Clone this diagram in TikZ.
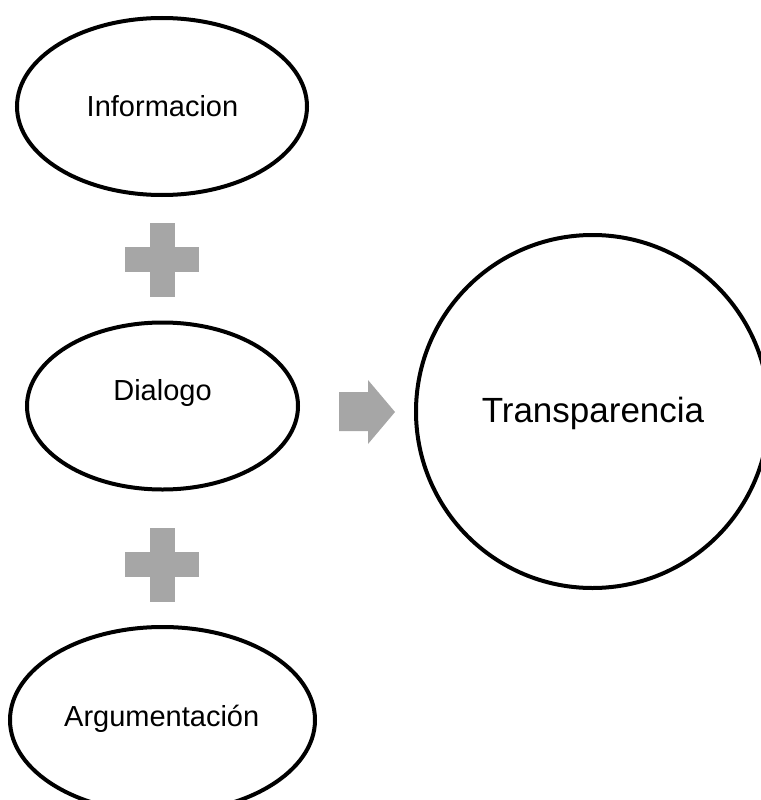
\documentclass[tikz,border=0pt]{standalone}
\usepackage{fontspec}
\setmainfont{Liberation Sans}
\definecolor{signgray}{HTML}{A6A6A6}

\begin{document}
\begin{tikzpicture}[x=1pt,y=-1pt,
  oval/.style={line width=4pt},
  sign/.style={fill=signgray,draw=none},
  word/.style={anchor=base,font=\fontsize{29}{34}\selectfont},
  bigword/.style={anchor=base,font=\fontsize{35}{42}\selectfont}]
\useasboundingbox (0,0) rectangle (760,800);
% left column
\draw[oval] (162,106.5) ellipse [x radius=145,y radius=88.5];\node[word] (info) at (162.5,116.7) {Informacion};
\draw[oval] (162.5,406) ellipse [x radius=135.5,y radius=83.5];\node[word] (dialogo) at (162.5,400.7) {Dialogo};
\draw[oval] (162.5,720) ellipse [x radius=152.5,y radius=93];\node[word] (argu) at (161.7,726.7) {Argumentación};
% plus signs
\foreach \y in {259.5,564.5} {
  \fill[sign] (149.5,\y-37) rectangle (174.5,\y+37);
  \fill[sign] (125,\y-12.5) rectangle (199,\y+12.5);
}
% arrow
\fill[sign] (339,392) -- (368,392) -- (368,380) -- (395,412) -- (368,444) -- (368,431) -- (339,431) -- cycle;
% result
\draw[oval] (592.5,411.5) circle [radius=176.5];\node[bigword] (transp) at (593,422.7) {Transparencia};
\end{tikzpicture}
\end{document}
